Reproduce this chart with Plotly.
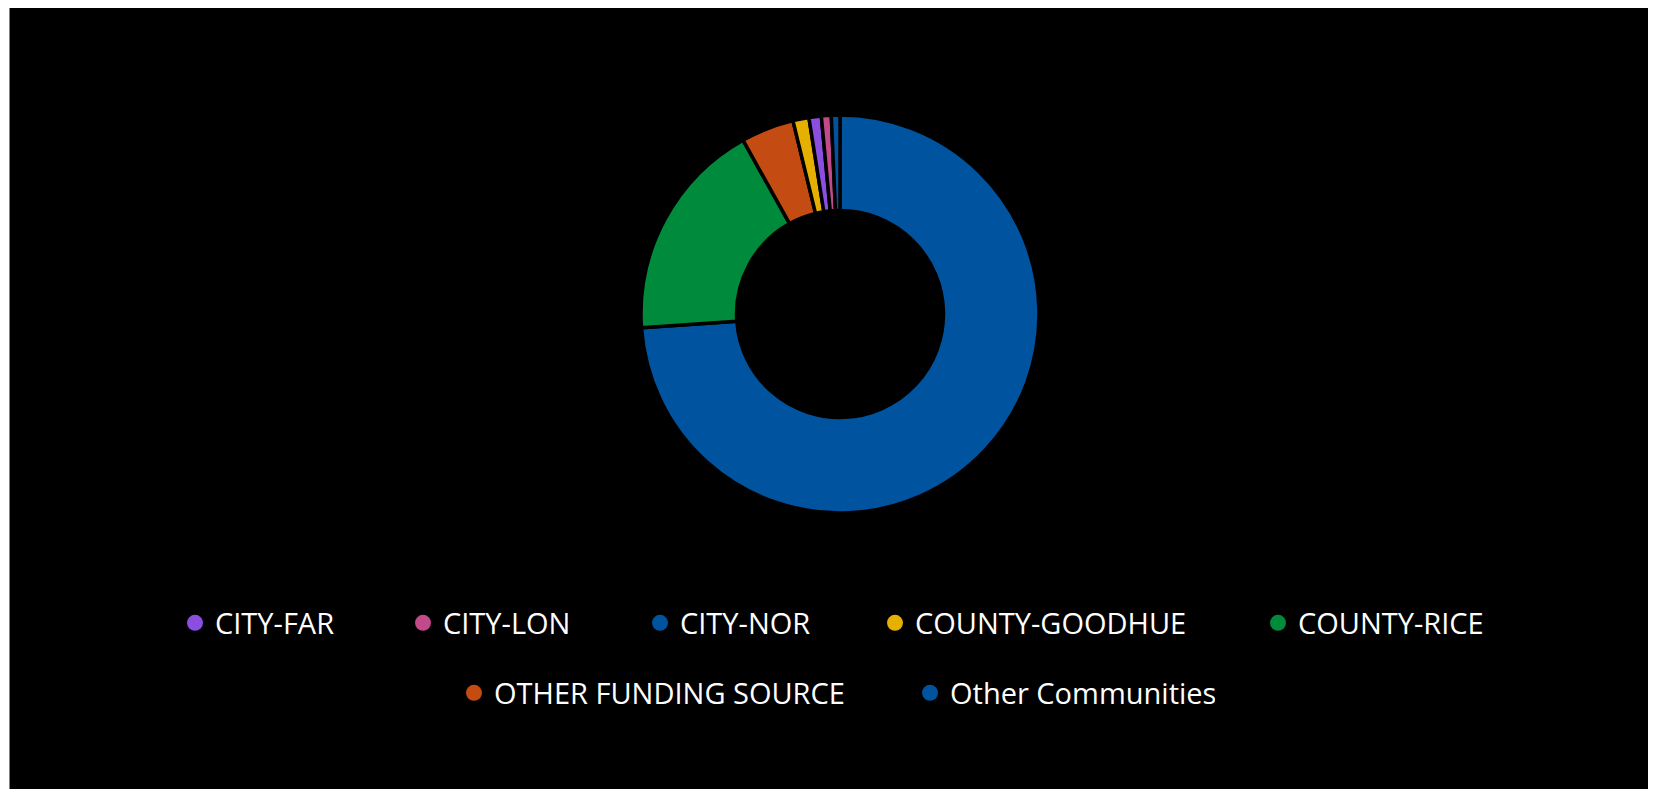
import plotly.graph_objects as go

# Slice data (clockwise from 12 o'clock), values in percent
slice_labels = ["Other Communities", "COUNTY-RICE", "OTHER FUNDING SOURCE",
                "COUNTY-GOODHUE", "CITY-FAR", "CITY-LON", "CITY-NOR"]
slice_values = [73.9, 18.0, 4.3, 1.3, 1.0, 0.8, 0.7]

color_map = {
    "CITY-FAR": "#8A4EE0",
    "CITY-LON": "#C2498A",
    "CITY-NOR": "#00539E",
    "COUNTY-GOODHUE": "#E6B000",
    "COUNTY-RICE": "#008A3C",
    "OTHER FUNDING SOURCE": "#C44C12",
    "Other Communities": "#00539E",
}

# Legend rows (alphabetical as in the reference)
legend_row1 = ["CITY-FAR", "CITY-LON", "CITY-NOR", "COUNTY-GOODHUE", "COUNTY-RICE"]
legend_row2 = ["OTHER FUNDING SOURCE", "Other Communities"]
row1_widths = [183, 192, 190, 338, 200]
row2_widths = [411, 260]

W, H = 1656, 789
cx, cy, r = 832, 306, 199

fig = go.Figure()
fig.add_trace(go.Pie(
    labels=slice_labels,
    values=slice_values,
    sort=False,
    direction="clockwise",
    rotation=0,
    hole=0.52,
    textinfo="none",
    hoverinfo="label+percent",
    marker=dict(colors=[color_map[l] for l in slice_labels],
                line=dict(color="#000000", width=3.5)),
    showlegend=False,
    domain=dict(x=[(cx - r) / W, (cx + r) / W],
                y=[1 - (cy + r) / H, 1 - (cy - r) / H]),
))

for lab, w in zip(legend_row1, row1_widths):
    fig.add_trace(go.Scatter(x=[None], y=[None], mode="markers", name=lab,
                             marker=dict(color=color_map[lab], size=20),
                             legend="legend", legendwidth=w))
for lab, w in zip(legend_row2, row2_widths):
    fig.add_trace(go.Scatter(x=[None], y=[None], mode="markers", name=lab,
                             marker=dict(color=color_map[lab], size=20),
                             legend="legend2", legendwidth=w))

legend_font = dict(family="Segoe UI, Open Sans, sans-serif", size=29, color="#FFFFFF")
fig.update_layout(
    width=W, height=H,
    margin=dict(l=0, r=0, t=0, b=0),
    paper_bgcolor="#000000",
    plot_bgcolor="#000000",
    xaxis=dict(visible=False),
    yaxis=dict(visible=False),
    legend=dict(orientation="h", x=(187 - 20) / W, xanchor="left",
                y=1 - 615 / H, yanchor="middle", font=legend_font,
                bgcolor="rgba(0,0,0,0)"),
    legend2=dict(orientation="h", x=(466 - 20) / W, xanchor="left",
                 y=1 - 685 / H, yanchor="middle", font=legend_font,
                 bgcolor="rgba(0,0,0,0)"),
    shapes=[
        dict(type="rect", xref="paper", yref="paper", x0=0, x1=1.5 / W, y0=0, y1=1,
             fillcolor="#FFFFFF", line=dict(width=0), layer="above"),
    ],
)

fig.write_html("out.html")
